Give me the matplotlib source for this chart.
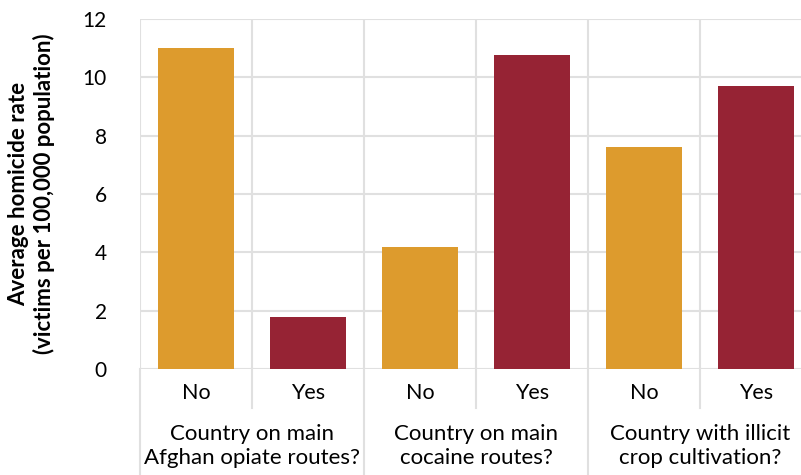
import matplotlib
matplotlib.use("Agg")
import matplotlib.pyplot as plt
from matplotlib.lines import Line2D

# data
groups = ["Country on main\nAfghan opiate routes?",
          "Country on main\ncocaine routes?",
          "Country with illicit\ncrop cultivation?"]
answers = ["No", "Yes"]
rate_no = [11.0, 4.2, 7.6]
rate_yes = [1.78, 10.75, 9.7]
y_ticks = [0, 2, 4, 6, 8, 10, 12]

ORANGE = "#DD9B2D"
RED = "#962334"
GRID = "#E0E0E0"

plt.rcParams["font.family"] = ["Lato", "DejaVu Sans"]

W, H = 801, 475
fig = plt.figure(figsize=(W / 100, H / 100), dpi=100)
# axes runs slightly past the right edge, like the cropped original
ax = fig.add_axes([140 / W, (H - 369) / H, 672 / W, 350 / H])

values, colors, labels = [], [], []
for n, y in zip(rate_no, rate_yes):
    values += [n, y]
    colors += [ORANGE, RED]
    labels += answers
xs = list(range(len(values)))

ax.bar(xs, values, width=0.67, color=colors, zorder=3)
ax.set_xlim(-0.5, len(values) - 0.5)
ax.set_ylim(0, 12)
ax.set_yticks(y_ticks)
ax.tick_params(axis="y", length=0, pad=24, labelsize=15)
ax.set_xticks([])
for s in ax.spines.values():
    s.set_visible(False)

ax.grid(axis="y", color=GRID, linewidth=1.5, zorder=0)
for b in range(len(values) + 1):
    ax.axvline(b - 0.5, color=GRID, linewidth=1.5, zorder=0)

# category labels and separators below the axis
tr = ax.get_xaxis_transform()
for x, lab in zip(xs, labels):
    ax.text(x, -24 / 350, lab, transform=tr, ha="center", va="center", fontsize=15.5)
for b in range(len(values) + 1):
    long_line = b % 2 == 0
    y0 = -106 / 350 if long_line else -39 / 350
    ax.add_line(Line2D([b - 0.5, b - 0.5], [0, y0], transform=tr, color=GRID,
                       linewidth=1.5, clip_on=False))
for g, name in enumerate(groups):
    ax.text(2 * g + 0.5, -77 / 350, name, transform=tr, ha="center", va="center",
            fontsize=16, linespacing=1.3)

ax.set_ylabel("Average homicide rate\n(victims per 100,000 population)",
              fontsize=16, fontweight="bold", labelpad=20, linespacing=1.2)

fig.savefig("out.png", dpi=100)
